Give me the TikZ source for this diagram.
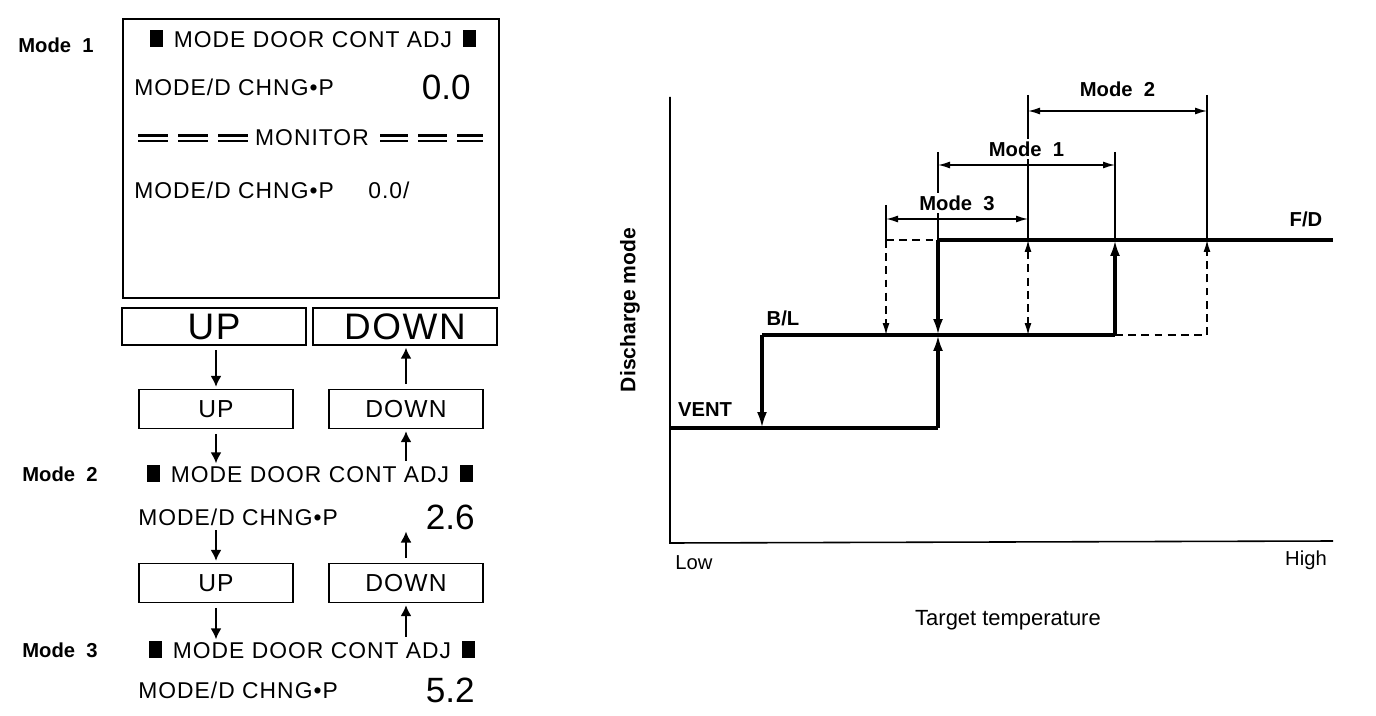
\documentclass[tikz,border=0pt]{standalone}
\usepackage{fontspec}
\setmainfont{Liberation Sans}
\newfontfamily\lcdfont{Liberation Sans}[LetterSpace=4.5]
\usetikzlibrary{arrows.meta,positioning}
\tikzset{
  lcdbox/.style={rectangle, draw, line width=1.1pt},
  lcdtext/.style={inner sep=0pt, font=\lcdfont\fontsize{13}{15}\selectfont},
  lcdnum/.style={inner sep=0pt, font=\fontsize{20}{24}\selectfont},
  modelabel/.style={inner sep=0pt, anchor=west,
    font=\bfseries\fontsize{11.5}{14}\selectfont},
  keybig/.style={rectangle, draw, line width=1.1pt,
    minimum width=3.68cm, minimum height=0.74cm, inner sep=0pt,
    font=\lcdfont\fontsize{21}{24}\selectfont},
  keysmall/.style={rectangle, draw, line width=1.1pt,
    minimum width=3.08cm, minimum height=0.78cm, inner sep=0pt,
    font=\lcdfont\fontsize{14}{16}\selectfont},
  flowarrow/.style={-{Latex[length=0.22cm,width=0.22cm]}, line width=0.9pt,
    shorten <=2.5pt, shorten >=1pt},
  monbar/.style={line width=1.4pt},
  axisline/.style={line width=0.9pt},
  stepline/.style={line width=1.8pt},
  steptip/.style={-{Latex[length=0.32cm,width=0.2cm]}},
  guideline/.style={line width=0.8pt},
  dashline/.style={line width=0.8pt, dash pattern=on 4.5pt off 3pt},
  thintip/.style={-{Latex[length=0.24cm,width=0.14cm]}},
  spanarrow/.style={{Latex[length=0.24cm,width=0.14cm]}-{Latex[length=0.24cm,width=0.14cm]},
    line width=0.8pt},
  spanlabel/.style={fill=white, inner sep=1.5pt, anchor=south, yshift=3pt,
    font=\bfseries\fontsize{11.5}{14}\selectfont},
  graphlabel/.style={inner sep=0pt, font=\fontsize{11.5}{14}\selectfont},
}
\newcommand{\blk}{\rule{0.26cm}{0.34cm}}
\newcommand{\doorline}{\blk\hspace{0.22cm}MODE DOOR CONT ADJ\hspace{0.22cm}\blk}

\begin{document}
\begin{tikzpicture}[x=0.02cm, y=-0.02cm]
  \useasboundingbox (0,0) rectangle (1376,716);

  % ---- left: display and keys
  \node[lcdbox, minimum width=7.52cm, minimum height=5.58cm, anchor=north west] (lcd) at (122,18) {};
  \node[modelabel] (mode1) at (18,45) {Mode\ \ 1};
  \node[lcdtext] (title1) at (313,39) {\doorline};
  \node[lcdtext, anchor=west] (chng1) at (134,87) {MODE/D CHNG•P};
  \node[lcdnum, anchor=east] (num1) at (471,87) {0.0};
  \node[lcdtext] (monitor) at (312,138) {MONITOR};
  \foreach \a/\b in {138/168,178/208,218/248,380/408,418/447,457/483}
    \draw[monbar] (\a,135.5) -- (\b,135.5) (\a,141) -- (\b,141);
  \node[lcdtext, anchor=west] (chngmon) at (134,190) {MODE/D CHNG•P};
  \node[lcdtext, anchor=west] (nummon) at (368,190) {0.0/};

  \node[keybig] (upbig) at (214,326.5) {UP};
  \node[keybig] (downbig) at (405,326.5) {DOWN};

  \node[keysmall] (upa) at (216,409) {UP};
  \node[keysmall] (downa) at (406,409) {DOWN};
  \draw[flowarrow] (upbig.south -| upa) -- (upa);
  \draw[flowarrow] (downa) -- (downa |- downbig.south);

  \node[modelabel] (mode2) at (22,474) {Mode\ \ 2};
  \node[lcdtext] (title2) at (310,474) {\doorline};
  \node[lcdtext, anchor=west] (chng2) at (138,517) {MODE/D CHNG•P};
  \node[lcdnum, anchor=east] (num2) at (475,517) {2.6};
  \draw[flowarrow] (upa) -- (upa |- title2.north);
  \draw[flowarrow] (downa |- title2.north) -- (downa);

  \node[keysmall] (upb) at (216,583) {UP};
  \node[keysmall] (downb) at (406,583) {DOWN};
  \draw[flowarrow] (upb |- chng2.south) -- (upb);
  \draw[flowarrow] (downb) -- (downb |- num2.south);

  \node[modelabel] (mode3) at (22,650) {Mode\ \ 3};
  \node[lcdtext] (title3) at (312,650) {\doorline};
  \node[lcdtext, anchor=west] (chng3) at (138,690) {MODE/D CHNG•P};
  \node[lcdnum, anchor=east] (num3) at (475,690) {5.2};
  \draw[flowarrow] (upb) -- (upb |- title3.north);
  \draw[flowarrow] (downb |- title3.north) -- (downb);

  % ---- right: discharge mode graph
  \coordinate (org) at (670,543);
  \coordinate (ytop) at (670,97);
  \coordinate (xend) at (1333,541);
  \coordinate (lvent) at (670,428);
  \coordinate (lbl) at (762,335);
  \coordinate (lfd) at (886,240);
  \coordinate (fdend) at (1333,240);
  \coordinate (gb) at (886,205);
  \coordinate (gc) at (938,152);
  \coordinate (gd) at (1028,95);
  \coordinate (ge) at (1115,152);
  \coordinate (gf) at (1207,95);
  \coordinate (s3) at (0,219);
  \coordinate (s1) at (0,165);
  \coordinate (s2) at (0,111);

  \draw[axisline] (ytop) -- (org) -- (xend);

  % guides and spans
  \foreach \g in {gb,gc,gd,ge,gf}
    \draw[guideline] (\g) -- (\g |- lfd);
  \draw[spanarrow] (gb |- s3) -- (gd |- s3) node[spanlabel, midway] {Mode\ \ 3};
  \draw[spanarrow] (gc |- s1) -- (ge |- s1) node[spanlabel, midway] {Mode\ \ 1};
  \draw[spanarrow] (gd |- s2) -- (gf |- s2) node[spanlabel, midway, yshift=3pt] {Mode\ \ 2};

  % levels
  \draw[stepline] (lvent) -- (gc |- lvent);
  \draw[stepline] (lbl) -- (ge |- lbl);
  \draw[stepline] (gc |- lfd) -- (fdend);
  \draw[dashline] (lfd) -- (gc |- lfd);
  \draw[dashline] (ge |- lbl) -- (gf |- lbl);

  % switching
  \draw[stepline, steptip] (lbl) -- (lbl |- lvent);
  \draw[stepline, steptip] (gc |- lvent) -- (gc |- lbl);
  \draw[stepline, steptip] (gc |- lfd) -- (gc |- lbl);
  \draw[stepline, steptip] (ge |- lbl) -- (ge |- lfd);
  \draw[dashline, thintip] (gb |- lfd) -- (gb |- lbl);
  \draw[dashline, {Latex[length=0.24cm,width=0.14cm]}-{Latex[length=0.24cm,width=0.14cm]}]
    (gd |- lfd) -- (gd |- lbl);
  \draw[dashline, thintip] (gf |- lbl) -- (gf |- lfd);

  \node[graphlabel, font=\bfseries\fontsize{11.5}{14}\selectfont] (vent) at (705,410) {VENT};
  \node[graphlabel, font=\bfseries\fontsize{11.5}{14}\selectfont] (bl) at (783,318) {B/L};
  \node[graphlabel, font=\bfseries\fontsize{11.5}{14}\selectfont] (fd) at (1306,219) {F/D};
  \node[graphlabel] (low) at (694,563) {Low};
  \node[graphlabel] (high) at (1306,560) {High};
  \node[graphlabel, font=\fontsize{12.5}{14}\selectfont] (xlabel) at (1008,620) {Target temperature};
  \node[graphlabel, rotate=90, font=\bfseries\fontsize{12}{14}\selectfont] (ylabel) at (630,310) {Discharge mode};
\end{tikzpicture}
\end{document}
